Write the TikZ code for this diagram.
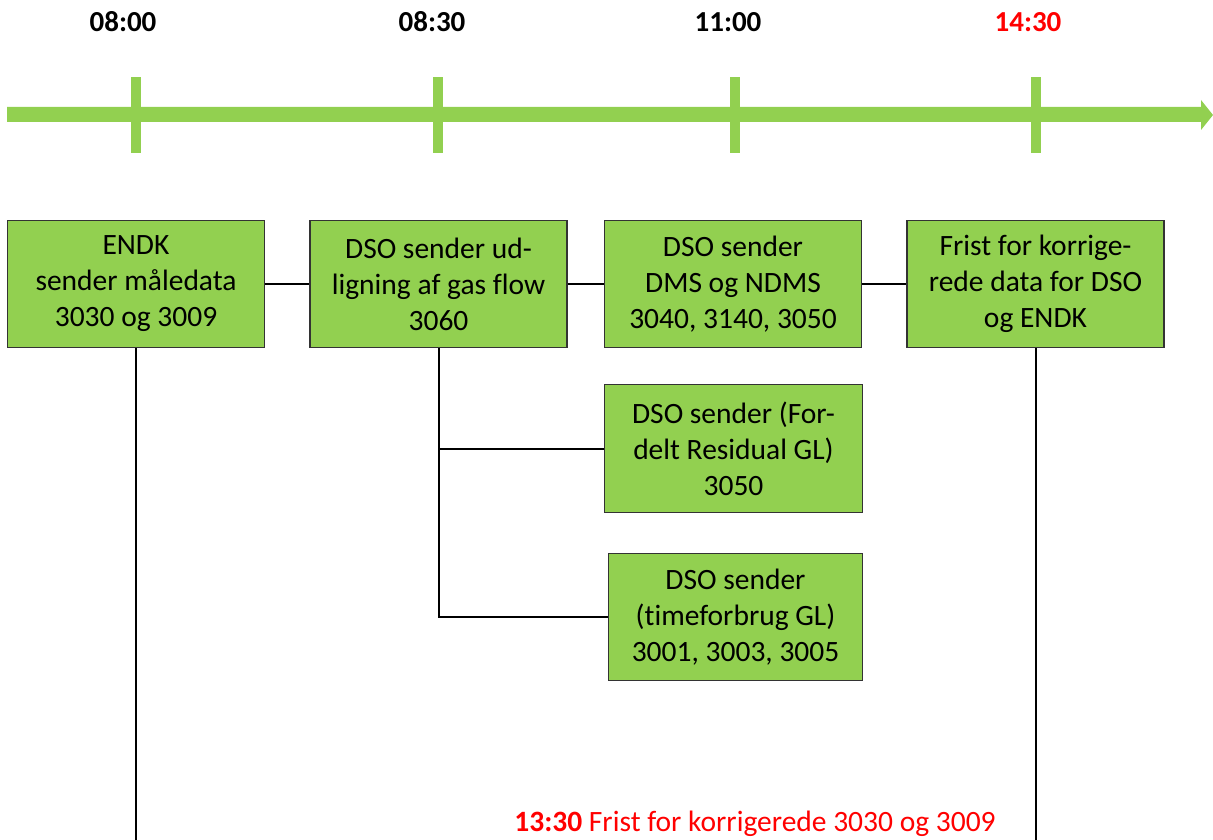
\documentclass[tikz,border=0pt]{standalone}
\usepackage{fontspec}
\setmainfont[Ligatures=NoCommon]{Carlito}
\definecolor{lgreen}{HTML}{92D050}
\definecolor{bred}{HTML}{FF0000}
\begin{document}
\begin{tikzpicture}[x=1pt,y=1pt,
  box/.style={draw=black!80, line width=1.4pt, fill=lgreen, minimum width=257pt, minimum height=127pt, align=center, inner sep=0pt, font=\fontsize{29.5}{36}\selectfont},
  conn/.style={draw=black, line width=2pt},
  timelbl/.style={font=\fontsize{29}{32}\selectfont\bfseries, inner sep=0pt}]
\useasboundingbox (0,0) rectangle (1213,-840);
% timeline
\fill[lgreen] (7,-107) -- (1201,-107) -- (1201,-100) -- (1213,-115) -- (1201,-130) -- (1201,-122) -- (7,-122) -- cycle;
\foreach \x in {136,438,735,1036} {\fill[lgreen] (\x-5,-77) rectangle (\x+5,-153);}
\node[timelbl] (t1) at (123,-22) {08:00};
\node[timelbl] (t2) at (432,-22) {08:30};
\node[timelbl] (t3) at (728,-22) {11:00};
\node[timelbl, text=bred] (t4) at (1028,-22) {14:30};
% boxes
\node[box] (b1) at (136,-284) {ENDK\\sender måledata\\3030 og 3009};
\node[box] (b2) at (438.5,-284) {DSO sender ud-\\ligning af gas flow\\3060};
\node[box] (b3) at (733,-284) {DSO sender\\DMS og NDMS\\3040, 3140, 3050};
\node[box] (b4) at (1035.5,-284) {Frist for korrige-\\rede data for DSO\\og ENDK};
\node[box, minimum width=258pt, minimum height=128pt] (b5) at (733.5,-448.5) {DSO sender (For-\\delt Residual GL)\\3050};
\node[box, minimum width=254pt] (b6) at (735.5,-617) {DSO sender\\(timeforbrug GL)\\3001, 3003, 3005};
% connectors
\draw[conn] (b1.east) -- (b2.west);
\draw[conn] (b2.east) -- (b3.west);
\draw[conn] (b3.east) -- (b4.west);
\coordinate (j1) at (b2.south |- b5.west);
\coordinate (j2) at (b2.south |- b6.west);
\draw[conn] (b2.south) -- (j2) -- (b6.west);
\draw[conn] (j1) -- (b5.west);
\coordinate (e1) at (b1.south |- 0,-840);
\coordinate (e4) at (b4.south |- 0,-840);
\draw[conn] (b1.south) -- (e1);
\draw[conn] (b4.south) -- (e4);
% bottom note
\node[text=bred, font=\fontsize{29.5}{32}\selectfont, inner sep=0pt, anchor=base] (note) at (755,-831) {\textbf{13:30} Frist for korrigerede 3030 og 3009};
\end{tikzpicture}
\end{document}
